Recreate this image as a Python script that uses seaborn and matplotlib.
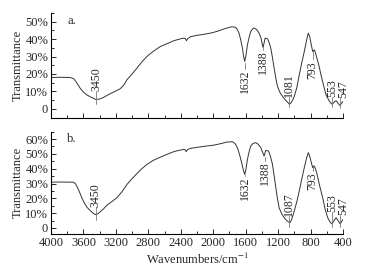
import numpy as np
import pandas as pd
import matplotlib
matplotlib.use("Agg")
import matplotlib.pyplot as plt
import seaborn as sns
from matplotlib.ticker import MultipleLocator, FuncFormatter

# spectrum a
wn_a = [4000, 3880, 3765, 3720, 3690, 3641, 3600, 3558, 3500, 3450, 3400, 3353,
        3290, 3229, 3146, 3100, 3063, 3000, 2939, 2880, 2816, 2740, 2651, 2560,
        2486, 2420, 2362, 2345, 2330, 2315, 2280, 2200, 2100, 2032, 1950, 1860,
        1785, 1740, 1710, 1682, 1660, 1640, 1625, 1611, 1595, 1578, 1555, 1537,
        1515, 1496, 1465, 1434, 1410, 1395, 1385, 1372, 1360, 1330, 1310, 1290,
        1270, 1249, 1228, 1207, 1175, 1145, 1110, 1083, 1060, 1040, 1020, 1001,
        970, 939, 908, 877, 850, 828, 810, 795, 774, 762, 753, 745, 733, 700,
        671, 640, 609, 570, 545, 535, 520, 500, 485, 465, 450, 436, 420, 402]
tr_a = [18.0, 18.1, 18.0, 17.3, 15.5, 11.9, 9.6, 8.0, 6.5, 5.4, 5.6, 6.5,
        8.2, 9.6, 11.5, 13.8, 16.7, 20.0, 23.4, 26.9, 30.1, 33.0, 35.8, 37.6,
        39.1, 40.0, 40.6, 40.4, 39.1, 40.2, 41.4, 42.2, 42.9, 43.5, 44.5, 46.0,
        47.0, 47.0, 46.2, 43.5, 39.5, 34.9, 30.0, 27.2, 31.0, 36.8, 41.5, 44.4,
        45.8, 46.4, 45.5, 43.5, 40.5, 37.0, 35.2, 38.0, 40.6, 40.2, 38.0, 34.9,
        29.5, 23.4, 17.5, 12.8, 9.2, 7.1, 5.0, 3.8, 2.6, 3.5, 5.0, 7.1,
        12.0, 19.5, 26.5, 32.9, 39.0, 43.5, 41.5, 37.8, 32.9, 33.5, 33.9, 33.0, 31.0, 25.5,
        19.5, 13.5, 8.0, 4.5, 3.0, 2.7, 3.2, 4.3, 4.6, 3.5, 2.5, 1.9, 3.0, 4.2]

# spectrum b
wn_b = [4000, 3880, 3724, 3700, 3682, 3650, 3620, 3590, 3558, 3500, 3455, 3420,
        3394, 3350, 3311, 3250, 3187, 3120, 3063, 3000, 2939, 2880, 2816, 2740,
        2651, 2560, 2486, 2420, 2362, 2345, 2333, 2318, 2280, 2200, 2100, 1991,
        1900, 1830, 1764, 1730, 1702, 1675, 1649, 1628, 1611, 1595, 1578, 1555,
        1537, 1510, 1475, 1445, 1413, 1390, 1372, 1360, 1351, 1318, 1295, 1269,
        1248, 1228, 1207, 1187, 1155, 1125, 1090, 1054, 1030, 1001, 970, 939,
        908, 877, 850, 828, 810, 795, 774, 762, 753, 740, 724, 690, 650, 620,
        588, 560, 535, 510, 485, 460, 436, 420, 402]
tr_b = [30.9, 31.0, 30.9, 30.0, 28.3, 24.5, 20.4, 17.0, 14.1, 10.8, 9.1, 9.6,
        10.9, 13.0, 15.4, 17.8, 20.4, 24.8, 29.4, 33.3, 36.8, 40.0, 42.9, 45.6,
        47.8, 49.9, 51.5, 52.4, 53.0, 52.8, 51.5, 52.8, 53.7, 54.4, 55.2, 55.9,
        57.0, 58.0, 58.2, 57.0, 54.2, 49.5, 44.0, 39.0, 36.1, 40.0, 46.3, 52.0,
        55.3, 57.0, 57.6, 56.5, 54.2, 51.0, 48.5, 51.0, 52.4, 51.9, 48.5, 42.9,
        35.0, 27.2, 19.5, 13.6, 9.5, 6.9, 4.8, 3.5, 6.0, 11.4, 17.5, 24.9,
        33.0, 40.7, 47.0, 50.8, 48.5, 45.1, 40.7, 41.5, 41.8, 40.0, 37.3, 29.0, 20.4, 12.5,
        6.9, 4.0, 2.8, 5.0, 6.9, 5.0, 2.8, 4.0, 5.7]

# peak labels
peaks_a = ["3450", "1632", "1388", "1081", "793", "553", "547"]
peaks_b = ["3450", "1632", "1388", "1087", "793", "553", "547"]

# (x of mark, tick y0, tick y1, text y, text above?, text dx)
marks_a = [(3443, 10.0, 3.0, 10.0, True, 0),
           (1605, 26.5, 23.0, 22.5, False, 0),
           (1385, 35.0, 33.5, 33.5, False, 0),
           (1062, 7.0, 0.8, 7.0, True, 0),
           (775, 33.0, 28.5, 27.5, False, 0),
           (530, 6.9, 1.2, 6.9, True, 0),
           (436, 6.3, 0.3, 6.3, True, -40)]
marks_b = [(3450, 13.9, 5.5, 13.9, True, 0),
           (1605, 36.0, 35.0, 35.0, False, 0),
           (1360, 48.0, 45.5, 45.2, False, 0),
           (1062, 7.8, 0.5, 7.8, True, 0),
           (775, 42.5, 38.5, 37.8, False, 0),
           (530, 10.5, 1.0, 10.5, True, 0),
           (436, 9.1, 1.0, 9.1, True, -45)]

sns.set_style("ticks")
plt.rcParams['font.family'] = ['Liberation Serif', 'DejaVu Serif']
plt.rcParams['mathtext.fontset'] = 'stix'

fig = plt.figure(figsize=(3.72, 2.72), dpi=100)
ax_a = fig.add_axes([0.137, 0.568, 0.785, 0.384])
ax_b = fig.add_axes([0.137, 0.140, 0.785, 0.376])

pct = FuncFormatter(lambda v, p: "0" if abs(v) < 1e-9 else "%d%%" % v)

panels = [(ax_a, wn_a, tr_a, peaks_a, marks_a, "a.", (-5, 55), 50),
          (ax_b, wn_b, tr_b, peaks_b, marks_b, "b.", (-4, 65), 60)]

for ax, wn, tr, labels, marks, tag, ylim, ytop in panels:
    df = pd.DataFrame({"wn": wn, "T": tr})
    sns.lineplot(data=df, x="wn", y="T", ax=ax, color="#333333", lw=0.7,
                 estimator=None, sort=False)
    ax.set_xlim(4000, 400)
    ax.set_ylim(*ylim)
    ax.set_yticks(np.arange(0, ytop + 1, 10))
    ax.yaxis.set_minor_locator(MultipleLocator(5))
    ax.xaxis.set_major_locator(MultipleLocator(400))
    ax.xaxis.set_minor_locator(MultipleLocator(200))
    ax.yaxis.set_major_formatter(pct)
    ax.tick_params(which="major", direction="in", length=3.5, width=0.7,
                   labelsize=9, pad=2)
    ax.tick_params(which="minor", direction="in", length=2, width=0.7)
    for s in ["top", "right"]:
        ax.spines[s].set_visible(False)
    for s in ["left", "bottom"]:
        ax.spines[s].set_linewidth(0.8)
        ax.spines[s].set_color("black")
    ax.set_ylabel("Transmittance", fontsize=9, labelpad=1)
    ax.set_xlabel("")
    ax.text(0.055, 0.985, tag, transform=ax.transAxes, fontsize=9,
            ha="left", va="top")
    for lab, (x, y0, y1, ty, above, dx) in zip(labels, marks):
        ax.plot([x, x], [y0, y1], color="#777777", lw=0.6)
        ax.text(x + dx, ty, lab, rotation=90, fontsize=8.5,
                ha="center", va="bottom" if above else "top", clip_on=False)

ax_a.tick_params(axis="x", labelbottom=False)
ax_b.set_xlabel("Wavenumbers/cm$^{-1}$", fontsize=9, labelpad=2)

fig.savefig("out.png", dpi=100)
